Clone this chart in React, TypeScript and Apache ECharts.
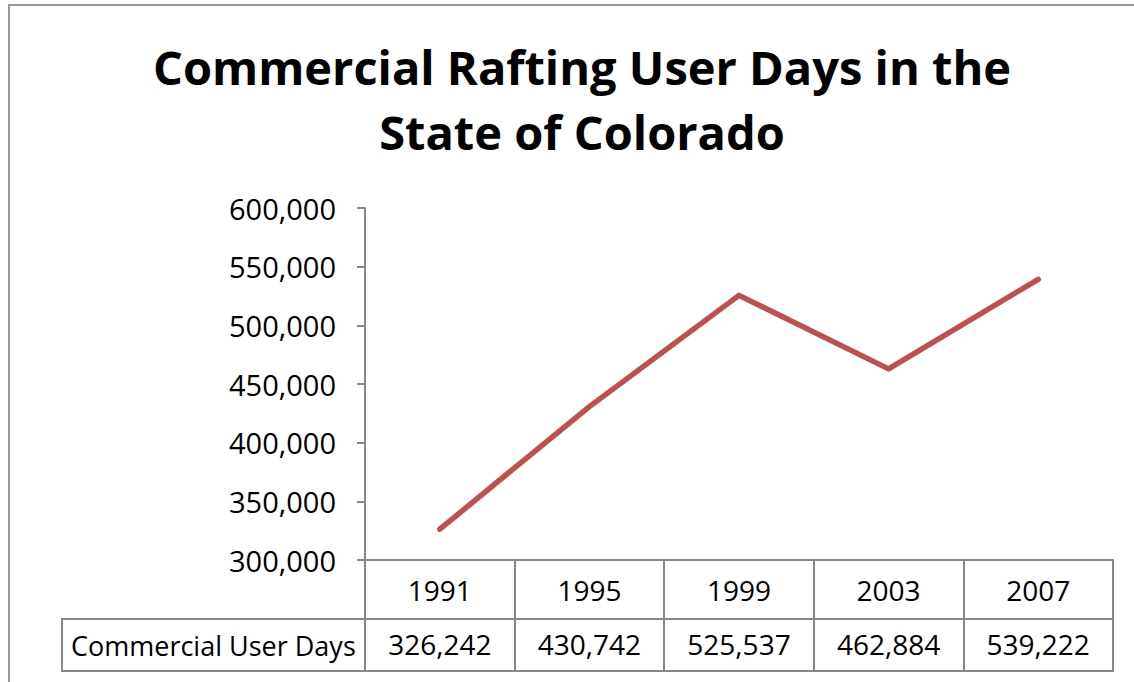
import React, { useEffect, useRef } from "react";
import * as echarts from "echarts";

const years = ["1991", "1995", "1999", "2003", "2007"];
const userDays = [326242, 430742, 525537, 462884, 539222];
const seriesName = "Commercial User Days";
const titleLines = ["Commercial Rafting User Days in the", "State of Colorado"];

const FONT = "'Open Sans', 'Noto Sans', sans-serif";
const GRAY = "#878787";
const fmt = (v: number) => v.toLocaleString("en-US");

export default function App() {
  const ref = useRef<HTMLDivElement>(null);
  useEffect(() => {
    const chart = echarts.init(ref.current!, null, { renderer: "svg" });
    const gridLeft = 365, gridRight = 21, gridTop = 208, gridBottom = 122;
    const axisY = 682 - gridBottom; // 560
    const row1 = 59, row2 = 52;
    chart.setOption({
      animation: false,
      backgroundColor: "#ffffff",
      textStyle: { fontFamily: FONT },
      title: {
        text: titleLines.join("\n"),
        left: 577,
        textAlign: "center",
        top: 29,
        textStyle: { fontFamily: FONT, fontSize: 47, fontWeight: "bold", color: "#000", lineHeight: 65 },
      },
      grid: { left: gridLeft, right: gridRight, top: gridTop, bottom: gridBottom },
      xAxis: [
        {
          type: "category",
          data: years,
          boundaryGap: true,
          axisLine: { show: true, lineStyle: { color: GRAY, width: 2 } },
          axisTick: { show: true, interval: 0, length: row1, lineStyle: { color: GRAY, width: 2 } },
          axisLabel: { interval: 0, margin: 16, fontSize: 28, color: "#000", fontFamily: FONT },
        },
        {
          type: "category",
          data: userDays.map(fmt),
          position: "bottom",
          offset: row1,
          boundaryGap: true,
          axisLine: { show: true, lineStyle: { color: GRAY, width: 2 } },
          axisTick: { show: true, interval: 0, length: row2, lineStyle: { color: GRAY, width: 2 } },
          axisLabel: { interval: 0, margin: 11, fontSize: 28, color: "#000", fontFamily: FONT },
        },
        {
          type: "category",
          data: years,
          position: "bottom",
          offset: row1 + row2,
          axisLine: { show: true, lineStyle: { color: GRAY, width: 2 } },
          axisTick: { show: false },
          axisLabel: { show: false },
        },
      ],
      yAxis: {
        type: "value",
        min: 300000,
        max: 600000,
        interval: 50000,
        axisLine: { show: true, lineStyle: { color: GRAY, width: 2 } },
        axisTick: { show: true, length: 8, lineStyle: { color: GRAY, width: 2 } },
        splitLine: { show: false },
        axisLabel: { margin: 29, fontSize: 29, color: "#000", fontFamily: FONT, formatter: (v: number) => fmt(v) },
      },
      series: [
        {
          name: seriesName,
          type: "line",
          data: userDays,
          showSymbol: false,
          symbol: "none",
          lineStyle: { color: "#C0504D", width: 5.5, cap: "round", join: "round" },
        },
      ],
      graphic: [
        {
          type: "rect",
          shape: { x: 9, y: 5, width: 1140, height: 700 },
          style: { fill: "none", stroke: "#999999", lineWidth: 2 },
          silent: true,
        },
        {
          type: "rect",
          shape: { x: 62, y: axisY + row1, width: gridLeft - 62, height: row2 },
          style: { fill: "none", stroke: GRAY, lineWidth: 2 },
          silent: true,
        },
        {
          type: "text",
          x: 71,
          y: axisY + row1 + row2 / 2,
          style: { text: seriesName, fontSize: 27, fontFamily: FONT, fill: "#000", verticalAlign: "middle", align: "left" },
          silent: true,
        },
      ],
    });
    return () => chart.dispose();
  }, []);
  return <div ref={ref} style={{ position: "fixed", left: 0, top: 0, width: 1134, height: 682 }} />;
}
